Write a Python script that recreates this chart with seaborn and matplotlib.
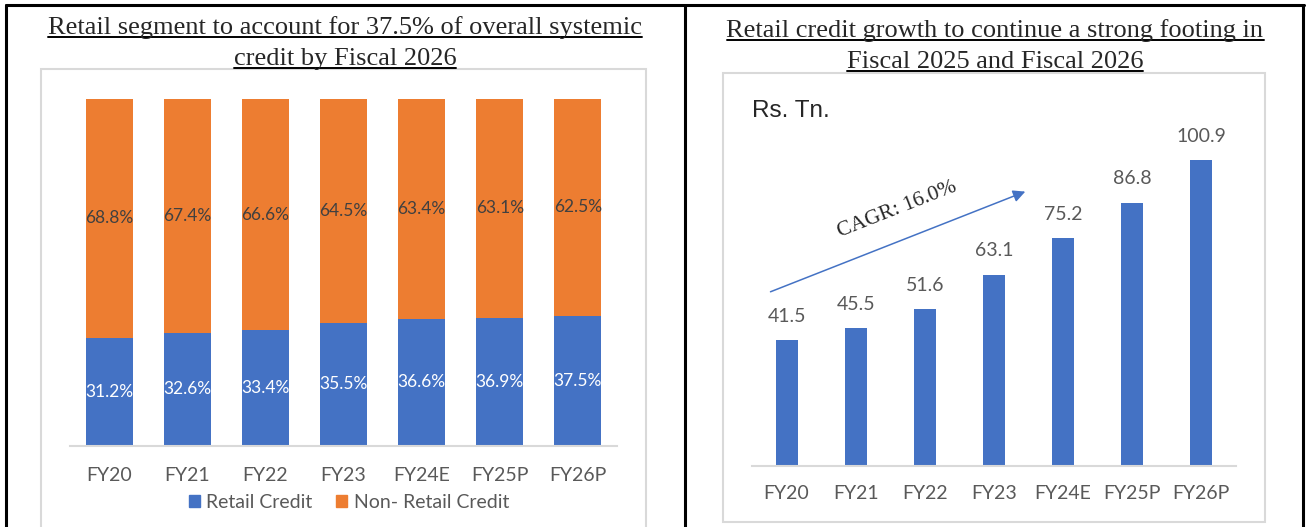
import matplotlib
matplotlib.use("Agg")
import seaborn as sns
from matplotlib import pyplot as plt
from matplotlib.lines import Line2D
from matplotlib.patches import Rectangle, Patch

years = ["FY20", "FY21", "FY22", "FY23", "FY24E", "FY25P", "FY26P"]
retail_share = [31.2, 32.6, 33.4, 35.5, 36.6, 36.9, 37.5]
non_retail_share = [68.8, 67.4, 66.6, 64.5, 63.4, 63.1, 62.5]
retail_credit = [41.5, 45.5, 51.6, 63.1, 75.2, 86.8, 100.9]

BLUE = "#4472C4"
ORANGE = "#ED7D31"
GRAY = "#595959"
FRAME = "#D9D9D9"
SANS = ["Lato", "DejaVu Sans"]
SERIF = ["Liberation Serif", "DejaVu Serif"]

sns.set_style("white")
plt.rcParams["font.family"] = SANS

W, H = 1306, 527
fig = plt.figure(figsize=(W / 100, H / 100), dpi=100)


def px_axes(x0, y0, x1, y1):
    # pixel box (top-left origin) -> figure axes
    return fig.add_axes([x0 / W, (H - y1) / H, (x1 - x0) / W, (y1 - y0) / H])


def frame(x0, y0, x1, y1, color=FRAME, lw=1.5):
    fig.add_artist(Rectangle((x0 / W, (H - y1) / H), (x1 - x0) / W, (y1 - y0) / H,
                             transform=fig.transFigure, fill=False,
                             edgecolor=color, lw=lw))


def style_axes(ax, pad):
    for s in ["top", "left", "right"]:
        ax.spines[s].set_visible(False)
    ax.spines["bottom"].set_color(FRAME)
    ax.spines["bottom"].set_linewidth(1.5)
    ax.set_yticks([])
    ax.set_xlabel("")
    ax.set_ylabel("")
    ax.tick_params(axis="x", length=0, pad=pad, labelsize=14, labelcolor=GRAY)
    ax.set_facecolor("none")


# table borders
for (x0, y0, x1, y1) in [(6, 5, 1304, 5), (6, 5, 6, 527), (685, 5, 685, 527), (1303, 5, 1303, 527)]:
    fig.add_artist(Line2D([x0 / W, x1 / W], [(H - y0) / H, (H - y1) / H],
                          transform=fig.transFigure, color="black", lw=2.2))

# chart frames
frame(41, 69, 646, 540)
frame(723, 73, 1265, 522)

# ---- left: stacked share ----
ax1 = px_axes(70, 99, 617, 446)
totals = [r + n for r, n in zip(retail_share, non_retail_share)]
sns.barplot(x=years, y=totals, color=ORANGE, saturation=1, width=0.6, linewidth=0, ax=ax1)
sns.barplot(x=years, y=retail_share, color=BLUE, saturation=1, width=0.6, linewidth=0, ax=ax1)
ax1.set_ylim(0, 100)
style_axes(ax1, 15)
for i, (r, n) in enumerate(zip(retail_share, non_retail_share)):
    ax1.text(i, r / 2, f"{r:.1f}%", ha="center", va="center", color="white", fontsize=12.5)
    ax1.text(i, r + n / 2, f"{n:.1f}%", ha="center", va="center", color="#404040", fontsize=12.5)
handles = [Patch(color=BLUE, label="Retail Credit"), Patch(color=ORANGE, label="Non- Retail Credit")]
leg = ax1.legend(handles=handles, loc="center", bbox_to_anchor=(0.51, -0.162), ncol=2,
                 frameon=False, fontsize=14, handlelength=0.55, handleheight=0.55,
                 handletextpad=0.35, columnspacing=1.2)
for t in leg.get_texts():
    t.set_color(GRAY)

# ---- right: retail credit ----
ax2 = px_axes(752, 102, 1236, 466)
sns.barplot(x=years, y=retail_credit, color=BLUE, saturation=1, width=0.32, linewidth=0, ax=ax2)
ax2.set_ylim(0, 120)
style_axes(ax2, 13.5)
ax2.bar_label(ax2.containers[0], labels=[f"{v:.1f}" for v in retail_credit],
              padding=11, color=GRAY, fontsize=14)
ax2.annotate("", xy=(3.49, 90.8), xytext=(-0.27, 57.1),
             arrowprops=dict(arrowstyle="-|>", color=BLUE, lw=1.1, mutation_scale=18))
ax2.text(1.6, 84.5, "CAGR: 16.0%", rotation=21.5, ha="center", va="center",
         family=SERIF, fontsize=15.5, rotation_mode="anchor")
fig.text(752 / W, (H - 111) / H, "Rs. Tn.", family=["Liberation Sans", "DejaVu Sans"],
         fontsize=17.5, va="center", ha="left")

# ---- underlined titles ----
titles = [
    (345, 28, "Retail segment to account for 37.5% of overall systemic"),
    (345, 59, "credit by Fiscal 2026"),
    (995, 31, "Retail credit growth to continue a strong footing in"),
    (995, 62, "Fiscal 2025 and Fiscal 2026"),
]
text_objs = [fig.text(x / W, (H - y) / H, s, ha="center", va="center", family=SERIF, fontsize=19)
             for x, y, s in titles]
fig.canvas.draw()
renderer = fig.canvas.get_renderer()
for t in text_objs:
    bb = t.get_window_extent(renderer)
    yline = (bb.y0 + 2) / H
    fig.add_artist(Line2D([bb.x0 / W, bb.x1 / W], [yline, yline],
                          transform=fig.transFigure, color="black", lw=1.4))

fig.savefig("out.png", dpi=100)
